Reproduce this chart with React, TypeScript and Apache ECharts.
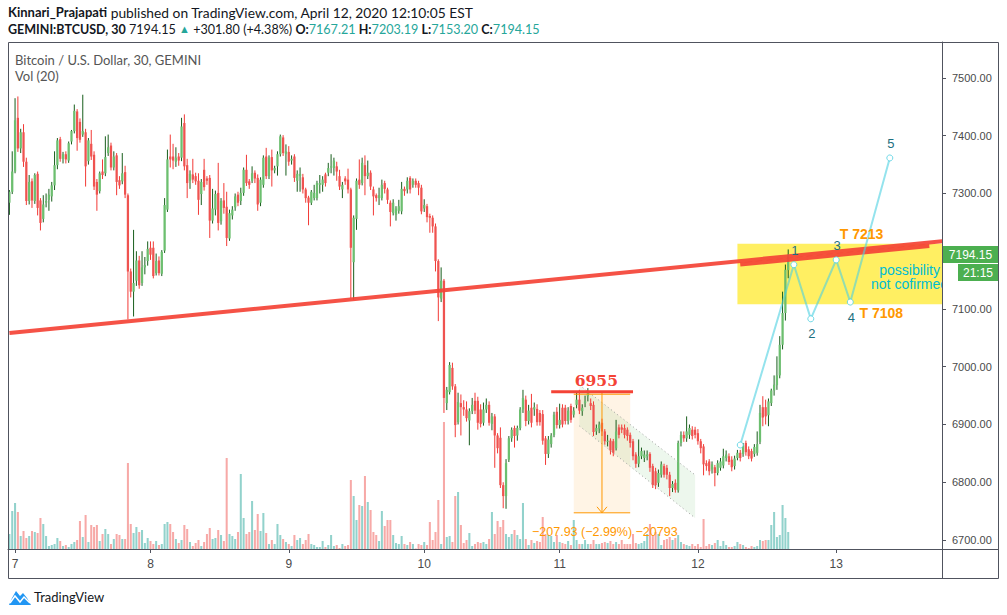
import React, { useEffect, useRef } from "react";
import * as echarts from "echarts";

// [open, close, low, high] — 30-minute BTCUSD bars
const candles: number[][] = [
  [7284,7303,7263,7306],[7303,7338,7299,7373],[7338,7427,7335,7465],[7431,7378,7372,7468],[7378,7406,7370,7412],
  [7406,7355,7346,7420],[7355,7287,7280,7362],[7287,7320,7281,7332],[7321,7288,7275,7326],[7287,7332,7282,7335],
  [7334,7275,7262,7338],[7288,7249,7236,7292],[7256,7281,7250,7297],[7284,7287,7276,7300],[7289,7298,7270,7308],
  [7295,7314,7286,7320],[7314,7349,7306,7373],[7349,7392,7342,7396],[7394,7360,7355,7398],[7360,7368,7352,7372],
  [7368,7359,7352,7373],[7357,7387,7353,7390],[7390,7408,7385,7410],[7408,7443,7404,7454],[7442,7396,7374,7446],
  [7424,7393,7388,7430],[7402,7408,7398,7471],[7406,7347,7312,7412],[7356,7392,7350,7396],[7386,7364,7358,7410],
  [7367,7312,7306,7373],[7320,7298,7270,7325],[7304,7335,7300,7338],[7338,7332,7325,7359],[7335,7363,7330,7399],
  [7370,7380,7365,7402],[7383,7345,7340,7388],[7345,7364,7340,7373],[7366,7320,7297,7370],[7323,7314,7308,7330],
  [7321,7335,7316,7370],[7337,7298,7292,7348],[7297,7165,7082,7300],[7165,7130,7120,7170],[7130,7145,7087,7237],
  [7149,7184,7140,7200],[7184,7141,7135,7192],[7145,7172,7140,7200],[7172,7176,7160,7190],[7183,7204,7175,7217],
  [7206,7194,7185,7217],
  [7206,7157,7153,7217],[7162,7183,7158,7196],[7184,7162,7158,7191],[7161,7199,7157,7202],[7201,7280,7197,7292],
  [7272,7359,7268,7376],[7364,7359,7345,7402],[7364,7357,7342,7386],[7355,7362,7346,7380],[7364,7357,7348,7370],
  [7362,7416,7356,7431],[7422,7347,7340,7437],[7349,7318,7292,7360],[7322,7334,7308,7340],[7333,7324,7318,7360],
  [7330,7321,7315,7336],[7322,7289,7263,7335],[7299,7320,7280,7325],[7341,7311,7305,7360],[7326,7322,7315,7330],
  [7327,7253,7223,7332],[7253,7274,7248,7308],[7272,7299,7262,7305],[7301,7249,7236,7353],[7252,7287,7246,7292],
  [7288,7275,7265,7318],[7277,7223,7209,7303],[7222,7266,7218,7272],[7262,7272,7255,7278],[7276,7295,7270,7300],
  [7298,7284,7278,7303],[7287,7301,7280,7310],[7301,7341,7296,7345],[7341,7318,7313,7367],[7321,7315,7308,7325],
  [7322,7335,7318,7347],[7336,7326,7318,7340],[7327,7281,7270,7333],[7284,7324,7278,7328],[7315,7362,7310,7366],
  [7364,7330,7325,7379],[7330,7362,7325,7366],[7363,7340,7312,7376],[7340,7344,7335,7348],[7347,7368,7331,7373],
  [7368,7399,7364,7402],[7397,7370,7365,7401],[7368,7373,7331,7385],[7372,7355,7348,7382],[7357,7360,7350,7366],
  [7364,7327,7320,7368],[7322,7334,7303,7340],[7330,7334,7303,7345],[7328,7307,7300,7334],[7307,7292,7284,7310],
  [7293,7284,7245,7296],[7284,7303,7280,7306],[7292,7301,7288,7315],[7292,7318,7288,7322],[7315,7318,7300,7332],
  [7315,7324,7303,7330],[7333,7318,7312,7336],[7336,7344,7330,7353],[7345,7347,7335,7368],[7344,7357,7331,7362],
  [7347,7338,7322,7355],[7330,7312,7306,7341],[7307,7315,7292,7320],[7326,7321,7315,7330],[7324,7307,7300,7343],
  [7307,7206,7119,7310],[7181,7258,7116,7262],[7256,7322,7237,7326],[7324,7315,7308,7359],[7318,7353,7314,7362],
  [7349,7330,7297,7366],[7330,7336,7325,7357],[7336,7312,7306,7340],[7307,7295,7262,7312],[7297,7292,7286,7300],
  [7292,7297,7280,7310],[7292,7315,7288,7324],[7318,7308,7300,7322],[7307,7289,7282,7310],[7284,7268,7243,7288],
  [7266,7284,7262,7290],[7263,7274,7253,7278],[7270,7278,7265,7289],[7269,7308,7264,7320],[7308,7304,7296,7312],
  [7307,7322,7300,7328],[7327,7307,7300,7330],[7315,7322,7310,7326],[7322,7315,7310,7326],[7318,7310,7297,7322],
  [7310,7269,7264,7315],[7274,7280,7268,7290],[7278,7259,7250,7282],
  [7261,7258,7232,7265],[7258,7243,7232,7262],[7243,7183,7165,7248],[7183,7120,7079,7186],[7118,7149,7112,7172],
  [7149,6946,6920,7152],[6937,6960,6925,6965],[6956,7003,6952,7008],[6998,6966,6960,7007],[6966,6899,6878,6970],
  [6904,6939,6900,6955],[6937,6930,6881,6952],[6930,6926,6915,6942],[6926,6911,6905,6940],[6907,6923,6864,6928],
  [6923,6934,6918,6946],[6941,6924,6918,6955],[6941,6903,6891,6948],[6926,6901,6895,6935],[6903,6926,6898,6938],
  [6926,6934,6920,6945],[6934,6903,6898,6940],[6901,6914,6890,6920],[6914,6881,6825,6918],[6881,6859,6850,6885],
  [6877,6795,6790,6895],[6795,6776,6755,6800],[6776,6833,6754,6840],[6839,6876,6835,6880],[6876,6891,6870,6895],
  [6894,6880,6860,6898],[6881,6894,6872,6898],[6894,6926,6890,6930],[6926,6946,6920,6960],[6943,6906,6897,6950],
  [6906,6924,6900,6934],[6929,6903,6895,6953],[6926,6930,6915,6938],[6927,6904,6898,6935],[6920,6904,6898,6925],
  [6918,6872,6865,6925],[6876,6849,6830,6880],[6849,6874,6842,6880],[6866,6881,6860,6885],[6882,6917,6878,6922],
  [6922,6899,6893,6930],[6899,6908,6893,6936],[6929,6900,6895,6935],
  [6929,6906,6900,6934],[6906,6924,6900,6930],[6932,6908,6903,6936],[6917,6924,6912,6930],[6934,6943,6928,6956],
  [6943,6924,6918,6960],[6923,6929,6915,6935],[6937,6940,6930,6950],[6949,6955,6940,6963],[6937,6932,6925,6945],
  [6934,6887,6880,6940],[6888,6894,6882,6900],[6893,6900,6885,6905],[6903,6888,6880,6910],[6888,6871,6865,6892],
  [6870,6872,6862,6882],[6872,6855,6848,6876],[6871,6851,6845,6875],[6859,6888,6855,6908],[6895,6882,6876,6900],
  [6895,6891,6885,6900],[6894,6882,6876,6900],[6891,6880,6872,6895],[6882,6868,6860,6886],[6871,6845,6838,6875],
  [6848,6832,6825,6852],[6832,6845,6826,6874],[6845,6854,6840,6860],[6842,6848,6835,6855],[6845,6848,6838,6855],
  [6849,6825,6818,6852],[6828,6795,6790,6832],[6819,6795,6788,6825],[6799,6816,6792,6822],[6813,6831,6808,6836],
  [6828,6813,6808,6832],[6825,6813,6805,6830],[6813,6790,6776,6818],[6790,6797,6783,6802],[6799,6787,6782,6805],
  [6786,6868,6782,6872],[6868,6882,6862,6888],[6882,6876,6870,6888],[6876,6888,6870,6914],[6882,6894,6875,6900],
  [6891,6880,6874,6897],[6891,6882,6876,6896],[6885,6871,6865,6892],[6871,6859,6850,6875],[6862,6831,6812,6866],
  [6833,6828,6820,6838],[6836,6819,6812,6840],[6822,6831,6815,6836],[6826,6816,6793,6830],[6816,6833,6812,6838],
  [6825,6836,6820,6842],[6829,6845,6824,6858],[6842,6848,6836,6855],[6845,6835,6830,6850],[6839,6826,6819,6845],
  [6828,6841,6822,6846],[6842,6851,6838,6856],[6851,6842,6836,6856],[6849,6864,6844,6868],[6868,6852,6846,6872],
  [6857,6845,6840,6862],[6854,6841,6836,6858],[6849,6861,6844,6866],[6851,6866,6846,6888],[6870,6920,6866,6934],
  [6930,6912,6897,6949],[6930,6914,6900,6943],[6916,6940,6897,6945],[6937,6959,6932,6962],[6959,6969,6950,6985],
  [6968,6985,6960,7018],[6985,7038,6980,7053],[7038,7093,7030,7130],[7093,7168,7080,7177],[7167.21,7194.15,7153.2,7203.19],
];

const volumes: number[] = [
  150,380,460,370,130,180,110,130,180,170, 160,310,250,130,30,40,50,110,80,30,
  40,20,50,70,90,280,120,340,70,240, 220,240,80,150,200,150,50,100,150,140,
  100,100,860,250,160,220,170,190,60,110, 80,
  50,80,40,50,250,270,250,170,100,60, 90,240,200,70,30,60,90,30,70,150,
  210,100,110,190,140,80,910,150,130,100, 170,750,310,150,170,480,190,350,180,360,
  160,50,90,50,250,140,100,70,50,30,
  140,90,110,50,90,150,50,40,20,20, 80,20,40,140,30,40,10,50,30,40,
  690,530,290,440,430,730,470,390,170,140, 80,380,230,290,290,140,60,50,130,50,
  40,70,50,5,50,40,70,40,
  270,90,170,490,50,1270,120,130,70,530, 570,240,60,90,160,30,50,70,60,70,
  50,100,370,150,280,220,290,150,120,150, 190,140,100,460,100,40,90,60,80,70,
  320,150,140,130,70,140,70,60,
  50,80,40,290,90,50,50,90,50,50, 90,50,50,60,70,60,80,50,70,50,
  90,50,50,50,150,60,50,60,80,150, 250,140,170,150,40,90,100,120,90,110,
  140,70,50,40,30,50,30,50,20,300,
  30,50,40,60,90,30,80,40,20,20, 30,70,50,40,20,10,30,20,30,90,
  80,90,90,240,370,120,140,440,310,170,
];

const slotCount = 331;
const slots = Array.from({ length: slotCount }, (_, i) => String(i));
const dayTickIndex = [2, 50, 99, 147, 195, 244, 293];
const dayTickLabel = ["7", "8", "9", "10", "11", "12", "13"];
const priceMin = 6684.4;
const priceMax = 7562.3;
const volumeMax = 5070;
const lastPrice = 7194.15;
const countdown = "21:15";

// drawings: x in bar index, y in price
const trendLine = [[-0.5, 7058.4], [330.5, 7217.7]];
const trendLine2 = [[258.9, 7177], [326.2, 7209]];
const resistance = { x1: 191.6, x2: 220.9, price: 6955, label: "6955", labelX: 207.8 };
const measure = { x1: 199.7, x2: 219.8, xMid: 209.7, top: 6955, bottom: 6747.07, label: "\u2212207.93 (\u22122.99%) \u221220793", labelX: 211, labelPrice: 6713 };
const channel = { x1: 202.3, x2: 243.1, upper: [6968.4, 6812.6], lower: [6897.4, 6738.1] };
const wavePoints = [[259.3, 6864.5], [277.6, 7176.7], [283.5, 7083], [292.6, 7185], [297.6, 7112], [311.7, 7361.5]];
const waveLabels = ["", "1", "2", "3", "4", "5"];
const waveLabelBelow = [false, false, true, false, true, false];
const targetZone = { x1: 258.2, x2: 330.5, low: 7108, high: 7213 };
const targetHigh = { x: 302.1, price: 7229.9, label: "T 7213" };
const targetLow = { x: 308.5, price: 7093, label: "T 7108" };
const note = { x: 318.8, price: 7155.4, label: "possibility\nnot cofirmed" };

const SANS = '"Liberation Sans", Arial, sans-serif';
const HEAD = 'Lato, "Liberation Sans", sans-serif';
const FRAME = "#50535e";
const UP_BODY = "#6cbf6f";
const UP_WICK = "#185e1c";
const DN_BODY = "#ef5350";
const DN_WICK = "#f23a36";

function txt(x: number, y: number, text: string, font: string, fill: string, align = "center", valign = "middle", extra: any = {}) {
  return {
    type: "text",
    x, y,
    style: { text, font, fill, align, textAlign: align, verticalAlign: valign, textVerticalAlign: valign, ...extra },
  };
}

export default function App() {
  const ref = useRef<HTMLDivElement>(null);

  useEffect(() => {
    const chart = echarts.init(ref.current!, null, { renderer: "svg" });

    const candleData = candles.map((c, i) => [i, c[0], c[1], Math.min(c[2], c[0], c[1]), Math.max(c[3], c[0], c[1])]);
    const volumeData = volumes.map((v, i) => {
      const c = candles[i];
      const up = c[1] >= c[0];
      return { value: v, itemStyle: { color: up ? "rgba(38,166,154,0.5)" : "rgba(239,83,80,0.5)" } };
    });

    const option: any = {
      animation: false,
      backgroundColor: "#ffffff",
      grid: { left: 8, right: 65, top: 42, bottom: 66 },
      xAxis: {
        type: "category",
        data: slots,
        boundaryGap: true,
        axisLine: { show: true, lineStyle: { color: FRAME, width: 1 } },
        axisTick: {
          show: true, alignWithLabel: true, length: 4,
          interval: (i: number) => dayTickIndex.includes(i),
          lineStyle: { color: FRAME },
        },
        axisLabel: {
          interval: (i: number) => dayTickIndex.includes(i),
          formatter: (_v: string, i: number) => {
            const k = dayTickIndex.indexOf(i);
            return k >= 0 ? dayTickLabel[k] : "";
          },
          color: "#4a4a4a", fontSize: 12, fontFamily: SANS, margin: 9,
        },
        splitLine: { show: false },
      },
      yAxis: [
        {
          type: "value", position: "right", min: priceMin, max: priceMax, splitNumber: 9, scale: true,
          axisLine: { show: true, lineStyle: { color: FRAME } },
          axisTick: { show: true, length: 4, lineStyle: { color: FRAME } },
          axisLabel: {
            showMinLabel: false, showMaxLabel: false,
            // a tick label under the last-price tag is hidden, as on the original
            formatter: (v: number) =>
              Math.abs(v % 100) < 1e-6 && Math.abs(v - lastPrice) > 25 ? v.toFixed(2) : "",
            color: "#4a4a4a", fontSize: 11, fontFamily: SANS, margin: 10,
          },
          splitLine: { show: false },
        },
        { type: "value", min: 0, max: volumeMax, show: false },
      ],
      series: [
        {
          type: "bar", name: "Vol", xAxisIndex: 0, yAxisIndex: 1, data: volumeData,
          barWidth: "72%", z: 1, silent: true,
        },
        {
          type: "custom", name: "under", xAxisIndex: 0, yAxisIndex: 0, z: 1, clip: true, silent: true,
          data: [[0, 7000]], encode: { x: 0, y: 1 },
          renderItem: (_p: any, api: any) => {
            const c = (x: number, y: number) => api.coord([x, y]);
            const zA = c(targetZone.x1, targetZone.high), zB = c(targetZone.x2, targetZone.low);
            const mA = c(measure.x1, measure.top), mB = c(measure.x2, measure.bottom);
            return {
              type: "group",
              children: [
                { type: "rect", shape: { x: zA[0], y: zA[1], width: zB[0] - zA[0], height: zB[1] - zA[1] }, style: { fill: "rgba(255,235,59,0.8)" } },
                { type: "rect", shape: { x: mA[0], y: mA[1], width: mB[0] - mA[0], height: mB[1] - mA[1] }, style: { fill: "rgba(255,152,0,0.1)" } },
                {
                  type: "polygon",
                  shape: { points: [c(channel.x1, channel.upper[0]), c(channel.x2, channel.upper[1]), c(channel.x2, channel.lower[1]), c(channel.x1, channel.lower[0])] },
                  style: { fill: "rgba(76,175,80,0.1)" },
                },
              ],
            };
          },
        },
        {
          type: "custom", name: "BTCUSD", xAxisIndex: 0, yAxisIndex: 0, z: 3, silent: true,
          data: candleData, encode: { x: 0, y: [1, 2, 3, 4] },
          renderItem: (_p: any, api: any) => {
            const i = api.value(0), o = api.value(1), cl = api.value(2), lo = api.value(3), hi = api.value(4);
            const pO = api.coord([i, o]), pC = api.coord([i, cl]), pL = api.coord([i, lo]), pH = api.coord([i, hi]);
            const bw = api.size([1, 0])[0] * 0.8;
            const up = cl >= o;
            const x = pO[0];
            const top = Math.min(pO[1], pC[1]);
            const h = Math.max(1, Math.abs(pO[1] - pC[1]));
            return {
              type: "group",
              children: [
                { type: "line", shape: { x1: x, y1: pH[1], x2: x, y2: pL[1] }, style: { stroke: up ? UP_WICK : DN_WICK, lineWidth: 1 } },
                { type: "rect", shape: { x: x - bw / 2, y: top, width: bw, height: h }, style: { fill: up ? UP_BODY : DN_BODY } },
              ],
            };
          },
        },
        {
          type: "custom", name: "drawings", xAxisIndex: 0, yAxisIndex: 0, z: 4, clip: true, silent: true,
          data: [[0, 7000]], encode: { x: 0, y: 1 },
          renderItem: (_p: any, api: any) => {
            const c = (x: number, y: number) => api.coord([x, y]);
            const ch: any[] = [];
            // channel borders
            const dotted = { stroke: "#9e9e9e", lineWidth: 1, lineDash: [1, 3] };
            let a = c(channel.x1, channel.upper[0]), b = c(channel.x2, channel.upper[1]);
            ch.push({ type: "line", shape: { x1: a[0], y1: a[1], x2: b[0], y2: b[1] }, style: dotted });
            a = c(channel.x1, channel.lower[0]); b = c(channel.x2, channel.lower[1]);
            ch.push({ type: "line", shape: { x1: a[0], y1: a[1], x2: b[0], y2: b[1] }, style: dotted });
            // measurement
            const orange = "#ff9800";
            const mT1 = c(measure.x1, measure.top), mT2 = c(measure.x2, measure.top);
            const mB1 = c(measure.x1, measure.bottom), mB2 = c(measure.x2, measure.bottom);
            const mM1 = c(measure.xMid, measure.top), mM2 = c(measure.xMid, measure.bottom);
            ch.push({ type: "line", shape: { x1: mT1[0], y1: mT1[1] + 1.5, x2: mT2[0], y2: mT2[1] + 1.5 }, style: { stroke: orange, lineWidth: 1 } });
            ch.push({ type: "line", shape: { x1: mB1[0], y1: mB1[1], x2: mB2[0], y2: mB2[1] }, style: { stroke: orange, lineWidth: 1 } });
            ch.push({ type: "line", shape: { x1: mM1[0], y1: mM1[1], x2: mM2[0], y2: mM2[1] }, style: { stroke: orange, lineWidth: 1 } });
            ch.push({ type: "polyline", shape: { points: [[mM2[0] - 5, mM2[1] - 6], [mM2[0], mM2[1]], [mM2[0] + 5, mM2[1] - 6]] }, style: { stroke: orange, lineWidth: 1, fill: "none" } });
            const ml = c(measure.labelX, measure.labelPrice);
            ch.push(txt(ml[0], ml[1], measure.label, `12.5px ${SANS}`, orange));
            // resistance 6955
            const r1 = c(resistance.x1, resistance.price), r2 = c(resistance.x2, resistance.price);
            ch.push({ type: "line", shape: { x1: r1[0], y1: r1[1] - 1, x2: r2[0], y2: r2[1] - 1 }, style: { stroke: "#f44336", lineWidth: 3 } });
            const rl = c(resistance.labelX, resistance.price);
            ch.push(txt(rl[0], rl[1] - 12, resistance.label, 'bold 15.5px "DejaVu Serif", serif', "#f44336"));
            // trend lines
            for (const ln of [trendLine, trendLine2]) {
              const p = c(ln[0][0], ln[0][1]), q = c(ln[1][0], ln[1][1]);
              ch.push({ type: "line", shape: { x1: p[0], y1: p[1], x2: q[0], y2: q[1] }, style: { stroke: "rgba(244,67,54,0.92)", lineWidth: 4 } });
            }
            // wave path
            const wp = wavePoints.map((p) => c(p[0], p[1]));
            ch.push({ type: "polyline", shape: { points: wp }, style: { stroke: "rgba(77,208,225,0.6)", lineWidth: 2, fill: "none" } });
            wp.forEach((p, k) => {
              ch.push({ type: "circle", shape: { cx: p[0], cy: p[1], r: 3 }, style: { fill: "#ffffff", stroke: "rgba(77,208,225,0.8)", lineWidth: 1 } });
              if (waveLabels[k]) {
                ch.push(txt(p[0] + 1, p[1] + (waveLabelBelow[k] ? 15 : -14), waveLabels[k], `13px ${SANS}`, "#1d6f80"));
              }
            });
            // targets
            const th = c(targetHigh.x, targetHigh.price), tl = c(targetLow.x, targetLow.price);
            ch.push(txt(th[0], th[1], targetHigh.label, `bold 14px ${SANS}`, "#ff9800"));
            ch.push(txt(tl[0], tl[1], targetLow.label, `bold 14px ${SANS}`, "#ff9800"));
            const nt = c(note.x, note.price);
            ch.push(txt(nt[0], nt[1], note.label, `14px ${SANS}`, "#00bcd4", "center", "middle", { lineHeight: 14 }));
            return { type: "group", children: ch };
          },
        },
      ],
    };

    chart.setOption(option);

    const py = chart.convertToPixel({ yAxisIndex: 0 } as any, lastPrice) as number;

    const graphic: any[] = [
      // frame
      { type: "rect", shape: { x: 8.5, y: 42.5, width: 990, height: 536 }, style: { fill: "none", stroke: FRAME, lineWidth: 1 }, z: 10 },
      { type: "line", shape: { x1: 942.5, y1: 549, x2: 942.5, y2: 578 }, style: { stroke: FRAME, lineWidth: 1 }, z: 10 },
      { type: "line", shape: { x1: 942, y1: 549.5, x2: 998, y2: 549.5 }, style: { stroke: FRAME, lineWidth: 1 }, z: 10 },
      // header
      {
        type: "text", x: 8, y: 12, z: 10,
        style: {
          text: "{b|Kinnari_Prajapati} published on TradingView.com, April 12, 2020 12:10:05 EST",
          font: `13.8px ${HEAD}`, fill: "#131722", verticalAlign: "middle", textVerticalAlign: "middle",
          rich: { b: { fontWeight: "bold", fontSize: 13, fontFamily: HEAD, fill: "#131722" } },
        },
      },
      {
        type: "text", x: 8, y: 29, z: 10,
        style: {
          text: "{b|GEMINI:BTCUSD, 30} 7194.15 {g|\u25B2} +301.80 (+4.38%) {b|O:}{t|7167.21} {b|H:}{t|7203.19} {b|L:}{t|7153.20} {b|C:}{t|7194.15}",
          font: `12.6px ${HEAD}`, fill: "#131722", verticalAlign: "middle", textVerticalAlign: "middle",
          rich: {
            b: { fontWeight: "bold", fontSize: 12.5, fontFamily: HEAD, fill: "#131722" },
            t: { fontSize: 12.6, fontFamily: HEAD, fill: "#26a69a" },
            g: { fontSize: 11, fontFamily: SANS, fill: "#26a69a" },
          },
        },
      },
      { ...txt(15, 60, "Bitcoin / U.S. Dollar, 30, GEMINI", `13px ${HEAD}`, "#555555", "left"), z: 10 },
      { ...txt(15, 76, "Vol (20)", `13px ${HEAD}`, "#555555", "left"), z: 10 },
      // last price & countdown
      { type: "rect", shape: { x: 943, y: py - 8.5, width: 55, height: 17 }, style: { fill: "#4caf50" }, z: 11 },
      { ...txt(970.5, py, lastPrice.toFixed(2), `12px ${SANS}`, "#ffffff"), z: 12 },
      { type: "rect", shape: { x: 958, y: py + 9.5, width: 40, height: 17 }, style: { fill: "#4caf50" }, z: 11 },
      { ...txt(978, py + 18, countdown, `12px ${SANS}`, "#ffffff"), z: 12 },
      // logo
      {
        type: "polygon", z: 10,
        shape: { points: [[9, 605], [12, 598], [16, 591], [20, 596], [23, 593], [27, 598], [31, 605]] },
        style: { fill: "#2196f3" },
      },
      {
        type: "polyline", z: 11,
        shape: { points: [[10, 603], [15, 596], [20, 602], [24, 597], [30, 603]] },
        style: { stroke: "#ffffff", lineWidth: 1.5, fill: "none" },
      },
      { ...txt(34, 597, "TradingView", `13px ${HEAD}`, "#131722", "left"), z: 10 },
    ];

    chart.setOption({ graphic });

    return () => chart.dispose();
  }, []);

  return <div ref={ref} style={{ position: "absolute", left: 0, top: 0, width: 1007, height: 615, background: "#fff" }} />;
}
